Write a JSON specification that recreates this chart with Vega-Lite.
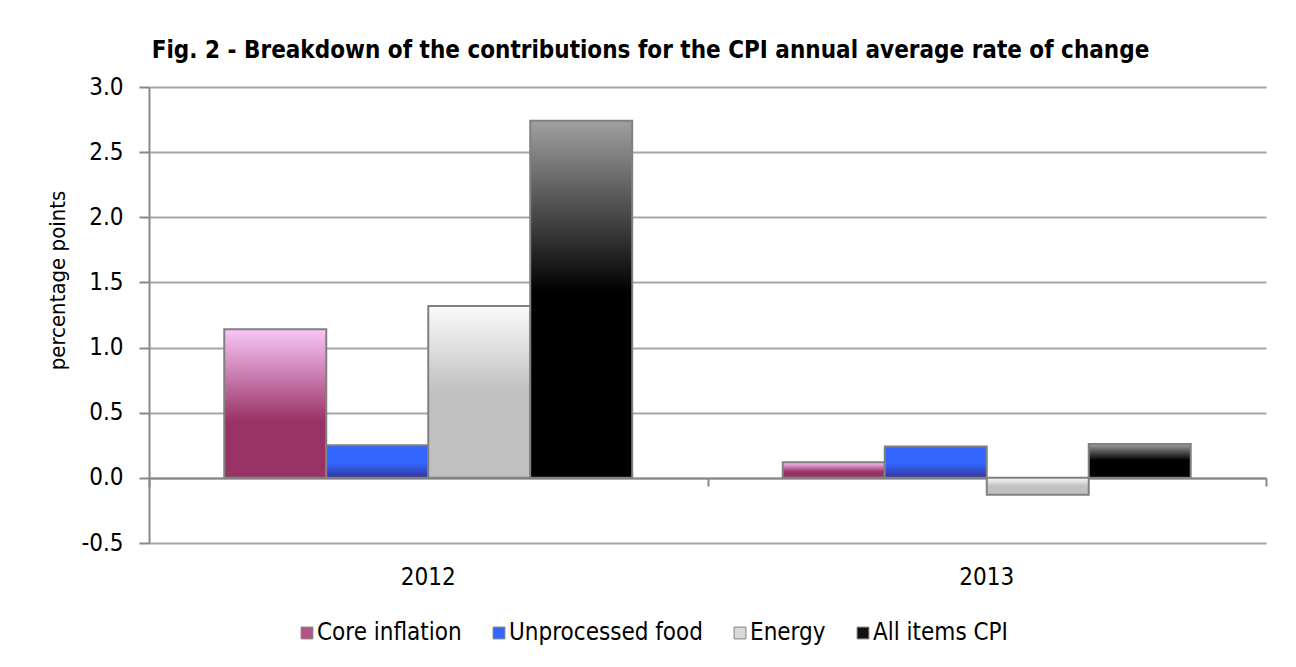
{
  "$schema": "https://vega.github.io/schema/vega-lite/v6.json",
  "width": 1117,
  "height": 456,
  "autosize": {"type": "none"},
  "padding": {"left": 149, "top": 87, "right": 30, "bottom": 124},
  "background": "white",
  "title": {
    "text": "Fig. 2 - Breakdown of the contributions for the CPI annual average rate of change",
    "font": "DejaVu Sans Condensed, Liberation Sans, sans-serif",
    "fontSize": 24,
    "fontWeight": "bold",
    "color": "black",
    "anchor": "middle",
    "dx": -57,
    "offset": -7,
    "baseline": "alphabetic"
  },
  "config": {
    "view": {"stroke": null},
    "font": "DejaVu Sans Condensed, Liberation Sans, sans-serif"
  },
  "data": {
    "values": [
      {"year": "2012", "series": "Core inflation", "value": 1.14},
      {"year": "2012", "series": "Unprocessed food", "value": 0.25},
      {"year": "2012", "series": "Energy", "value": 1.32},
      {"year": "2012", "series": "All items CPI", "value": 2.74},
      {"year": "2013", "series": "Core inflation", "value": 0.12},
      {"year": "2013", "series": "Unprocessed food", "value": 0.24},
      {"year": "2013", "series": "Energy", "value": -0.13},
      {"year": "2013", "series": "All items CPI", "value": 0.26}
    ]
  },
  "encoding": {
    "x": {
      "field": "year",
      "type": "nominal",
      "scale": {"paddingInner": 0, "paddingOuter": 0}
    },
    "xOffset": {
      "field": "series",
      "type": "nominal",
      "sort": ["Core inflation", "Unprocessed food", "Energy", "All items CPI"],
      "scale": {"paddingInner": 0, "paddingOuter": 0.738}
    },
    "y": {
      "field": "value",
      "type": "quantitative",
      "scale": {"domain": [-0.5, 3.0], "nice": false, "zero": false},
      "axis": {
        "title": "percentage points",
        "titleFontSize": 22,
        "titleFontWeight": "normal",
        "titleColor": "black",
        "titleX": -92,
        "titleY": 193,
        "titleAngle": -90,
        "titleAlign": "center",
        "titleBaseline": "middle",
        "values": [-0.5, 0, 0.5, 1, 1.5, 2, 2.5, 3],
        "format": ".1f",
        "labelExpr": "replace(datum.label, '\u2212', '-')",
        "labelFontSize": 24,
        "labelColor": "black",
        "labelPadding": 16,
        "tickSize": 10,
        "tickColor": "#888888",
        "tickWidth": 2,
        "domainColor": "#888888",
        "domainWidth": 2,
        "gridColor": "#a6a6a6",
        "gridWidth": 2
      }
    }
  },
  "layer": [
    {
      "mark": {"type": "bar"},
      "encoding": {
        "x": {
          "field": "year",
          "type": "nominal",
          "axis": {
            "orient": "bottom",
            "title": null,
            "domain": false,
            "ticks": false,
            "labelAngle": 0,
            "labelFontSize": 24,
            "labelColor": "black",
            "labelPadding": 22
          }
        },
        "color": {
          "field": "series",
          "type": "nominal",
          "sort": ["Core inflation", "Unprocessed food", "Energy", "All items CPI"],
          "scale": {
            "domain": ["Core inflation", "Unprocessed food", "Energy", "All items CPI"],
            "range": ["#b5528a", "#3366ff", "#d9d9d9", "#111111"]
          },
          "legend": {
            "title": null,
            "orient": "none",
            "direction": "horizontal",
            "legendX": 146,
            "legendY": 534,
            "symbolType": "square",
            "symbolSize": 140,
            "symbolStrokeColor": "#808080",
            "symbolStrokeWidth": 1,
            "symbolOpacity": 1,
            "labelFontSize": 24,
            "labelColor": "black",
            "labelLimit": 400,
            "labelOffset": -2,
            "columnPadding": 25
          }
        }
      }
    },
    {
      "mark": {"type": "bar", "stroke": "#808080", "strokeWidth": 2},
      "encoding": {
        "x": {
          "field": "year",
          "type": "nominal",
          "axis": {
            "orient": "bottom",
            "title": null,
            "labels": false,
            "grid": false,
            "offset": -65,
            "domain": true,
            "domainColor": "#888888",
            "domainWidth": 2,
            "ticks": true,
            "tickBand": "extent",
            "tickSize": 8,
            "tickColor": "#888888",
            "tickWidth": 2
          }
        },
        "fill": {
          "condition": [
            {
              "test": "datum.series === 'Core inflation'",
              "value": {
                "gradient": "linear", "x1": 0, "y1": 0, "x2": 0, "y2": 1,
                "stops": [
                  {"offset": 0, "color": "#f9c6f8"},
                  {"offset": 0.62, "color": "#993366"},
                  {"offset": 1, "color": "#993366"}
                ]
              }
            },
            {
              "test": "datum.series === 'Unprocessed food'",
              "value": {
                "gradient": "linear", "x1": 0, "y1": 0, "x2": 0, "y2": 1,
                "stops": [
                  {"offset": 0, "color": "#3366ff"},
                  {"offset": 0.55, "color": "#3366ff"},
                  {"offset": 1, "color": "#333399"}
                ]
              }
            },
            {
              "test": "datum.series === 'Energy'",
              "value": {
                "gradient": "linear", "x1": 0, "y1": 0, "x2": 0, "y2": 1,
                "stops": [
                  {"offset": 0, "color": "#fbfbfb"},
                  {"offset": 0.5, "color": "#c0c0c0"},
                  {"offset": 1, "color": "#c0c0c0"}
                ]
              }
            }
          ],
          "value": {
            "gradient": "linear", "x1": 0, "y1": 0, "x2": 0, "y2": 1,
            "stops": [
              {"offset": 0, "color": "#a0a0a0"},
              {"offset": 0.48, "color": "#000000"},
              {"offset": 1, "color": "#000000"}
            ]
          }
        }
      }
    }
  ],
  "resolve": {"axis": {"x": "independent"}}
}
